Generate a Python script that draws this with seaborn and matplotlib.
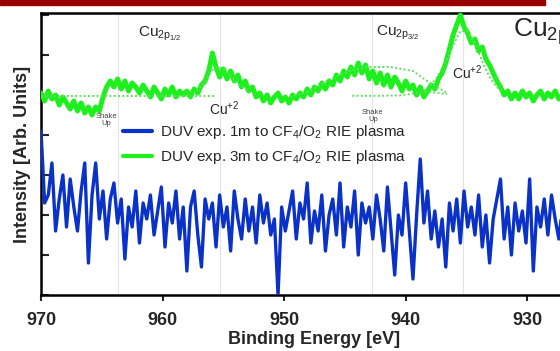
import numpy as np
import pandas as pd
import matplotlib
matplotlib.use("Agg")
import matplotlib.pyplot as plt
from matplotlib.patches import Rectangle
import seaborn as sns

# ---------------------------------------------------------------------------------------
## 0. Values (intensity in tick units, 0 = bottom of the frame)

blue_energy = np.linspace(970, 925, 151)
blue_counts = [
    4.1, 2.3, 2.5, 3.3, 1.6, 2.4, 3.0, 1.7, 2.9, 2.2,
    1.6, 2.6, 3.3, 0.8, 2.5, 3.3, 1.9, 2.6, 1.4, 2.4,
    2.8, 1.8, 2.4, 0.9, 2.2, 1.7, 2.6, 1.3, 2.3, 1.9,
    2.5, 1.5, 2.1, 2.7, 1.2, 2.3, 1.8, 2.6, 1.4, 2.2,
    0.6, 2.2, 2.6, 1.5, 0.7, 2.4, 1.9, 2.3, 1.2, 2.5,
    1.7, 2.2, 1.1, 2.6, 1.9, 1.4, 2.4, 1.6, 2.2, 1.3,
    2.5, 1.8, 2.3, 1.5, 1.9, 0.0, 2.2, 1.6, 2.1, 2.6,
    1.4, 2.3, 1.9, 2.8, 1.3, 2.1, 1.6, 2.5, 1.1, 2.0,
    2.4, 1.5, 2.8, 1.2, 2.2, 1.7, 2.6, 1.0, 2.3, 1.8,
    2.2, 1.4, 2.5, 1.9, 1.1, 2.7, 1.6, 0.5, 2.0, 1.5,
    2.8, 1.6, 0.4, 2.0, 3.4, 1.8, 2.6, 1.4, 2.1, 1.2,
    1.9, 0.7, 2.3, 1.6, 2.4, 1.3, 2.6, 1.7, 2.2, 1.5,
    2.5, 1.2, 2.0, 0.8, 1.9, 2.4, 2.9, 1.4, 2.2, 1.0,
    2.3, 1.6, 2.1, 1.3, 2.9, 0.6, 2.2, 1.7, 2.4, 1.5,
    2.5, 1.9, 1.4, 2.2, 1.8, 2.0, 1.6, 2.1, 1.9, 2.0,
    1.8,
]

green_energy = np.linspace(970, 925, 151)
green_counts = [
    5.05, 4.85, 5.10, 4.90, 5.00, 4.75, 4.95, 4.80, 4.65, 4.85,
    4.60, 4.80, 4.55, 4.70, 4.50, 4.70, 4.60, 4.95, 5.20, 5.35,
    5.20, 5.40, 5.15, 5.35, 5.10, 5.30, 5.20, 5.05, 5.25, 5.10,
    4.95, 5.20, 5.05, 4.90, 5.15, 5.00, 5.20, 4.95, 5.10, 5.00,
    5.10, 4.95, 5.15, 5.05, 5.25, 5.35, 5.60, 6.05, 5.70, 5.45,
    5.65, 5.40, 5.60, 5.35, 5.50, 5.20, 5.35, 5.10, 5.20, 4.95,
    5.05, 4.85, 5.00, 4.80, 4.95, 5.05, 4.85, 4.95, 4.80, 5.00,
    4.90, 5.05, 4.95, 5.15, 5.00, 5.20, 5.10, 5.30, 5.15, 5.35,
    5.25, 5.50, 5.35, 5.60, 5.45, 5.70, 5.50, 5.80, 5.55, 5.75,
    5.40, 5.60, 5.30, 5.55, 5.25, 5.50, 5.20, 5.45, 5.30, 5.10,
    5.35, 5.15, 5.25, 5.00, 5.20, 4.95, 5.10, 5.25, 5.15, 5.40,
    5.55, 5.80, 6.15, 6.50, 6.75, 7.00, 6.70, 6.55, 6.30, 6.40,
    6.10, 6.20, 5.90, 5.75, 5.55, 5.35, 5.20, 5.00, 5.10, 4.90,
    5.05, 4.90, 5.10, 4.95, 5.05, 4.85, 5.00, 5.10, 4.90, 5.05,
    4.95, 5.10, 4.90, 5.00, 5.10, 4.95, 5.05, 4.90, 5.00, 5.05,
    4.95,
]

# dotted fit envelopes
fit_base_energy = [970.0, 955.6]
fit_base_counts = [4.98, 4.98]
fit_a_energy = [957.5, 957.0, 956.5, 956.0, 955.5, 955.0, 954.5, 954.0, 953.5, 953.0, 952.5]
fit_a_counts = [5.05, 5.15, 5.35, 5.60, 5.70, 5.65, 5.50, 5.35, 5.20, 5.10, 5.02]
fit_shake_energy = [949.5, 947.9, 946.2, 944.6, 943.2, 941.3, 939.4, 938.0, 936.6]
fit_shake_counts = [4.95, 5.10, 5.40, 5.60, 5.70, 5.70, 5.60, 5.30, 5.05]
fit_low_energy = [944.4, 942.0, 940.5, 939.5, 938.6, 937.5, 936.6]
fit_low_counts = [4.98, 4.98, 4.99, 5.03, 5.07, 5.06, 5.02]
fit_b_energy = [938.5, 937.5, 936.5, 936.0, 935.5, 935.0, 934.5, 934.0, 933.5, 933.0, 932.5, 932.0]
fit_b_counts = [5.10, 5.40, 5.95, 6.30, 6.60, 6.60, 6.40, 6.05, 5.70, 5.40, 5.20, 5.05]

guide_energies = [963.7, 955.3, 942.8, 935.3]
x_ticks = [970, 960, 950, 940, 930]
series_labels = ['DUV exp. 1m to CF$_4$/O$_2$ RIE plasma',
                 'DUV exp. 3m to CF$_4$/O$_2$ RIE plasma']

# ---------------------------------------------------------------------------------------
## 1. Style

sns.set_style('ticks')
plt.rcParams['font.family'] = ['Liberation Sans', 'DejaVu Sans']
plt.rcParams['mathtext.default'] = 'regular'

blue = '#0a32c8'
green = '#1ef01e'
fit_green = '#5ee05e'

fig = plt.figure(figsize=(5.6, 3.51), dpi=100)
ax = fig.add_axes([41 / 560, 56 / 351, 547 / 560, 282 / 351])

# red banner at the top of the slide
fig.patches.append(Rectangle((0, 1 - 5 / 351), 545 / 560, 5 / 351,
                             transform=fig.transFigure, color='#990000', zorder=5))

# ---------------------------------------------------------------------------------------
## 2. Lines

for e in guide_energies:
    ax.axvline(e, color='#e2e2e2', lw=0.8, zorder=0)

blue_df = pd.DataFrame({'energy': blue_energy, 'counts': blue_counts})
green_df = pd.DataFrame({'energy': green_energy, 'counts': green_counts})

sns.lineplot(data=blue_df, x='energy', y='counts', ax=ax, color=blue, lw=2.4,
             sort=False, label=series_labels[0], zorder=3)
sns.lineplot(data=green_df, x='energy', y='counts', ax=ax, color=green, lw=3.6,
             sort=False, label=series_labels[1], zorder=3)

for fe, fc in [(fit_base_energy, fit_base_counts), (fit_a_energy, fit_a_counts),
               (fit_shake_energy, fit_shake_counts), (fit_low_energy, fit_low_counts),
               (fit_b_energy, fit_b_counts)]:
    ax.plot(fe, fc, color=fit_green, lw=1.4, ls=(0, (1, 1.2)), zorder=4)

# ---------------------------------------------------------------------------------------
## 3. Annotations

ax.text(962.0, 6.45, 'Cu$_{2p_{1/2}}$', fontsize=11)
ax.text(942.4, 6.48, 'Cu$_{2p_{3/2}}$', fontsize=11)
ax.text(931.2, 6.45, 'Cu$_{2p}$', fontsize=19)
ax.text(956.2, 4.5, 'Cu$^{+2}$', fontsize=10)
ax.text(936.2, 5.4, 'Cu$^{+2}$', fontsize=10, zorder=5)
ax.text(964.6, 4.38, 'Shake\nUp', fontsize=5.5, ha='center', va='center',
        color='#444444', linespacing=1.1)
ax.text(942.7, 4.47, 'Shake\nUp', fontsize=5.5, ha='center', va='center',
        color='#444444', linespacing=1.1)

# ---------------------------------------------------------------------------------------
## 4. Axes

ax.set_xlim(970, 925)
ax.set_ylim(0, 7.05)
ax.set_xticks(x_ticks)
ax.set_xticklabels([str(t) for t in x_ticks], fontweight='bold', fontsize=13)
ax.set_yticks(range(0, 8))
ax.set_yticklabels([])
ax.tick_params(axis='y', direction='in', length=6, width=1.5)
ax.tick_params(axis='x', direction='out', length=4.5, width=1.5, pad=8)
ax.set_xlabel('Binding Energy [eV]', fontweight='bold', fontsize=13, labelpad=1)
ax.set_ylabel('Intensity [Arb. Units]', fontweight='bold', fontsize=13, labelpad=4)
for side in ['left', 'bottom', 'top']:
    ax.spines[side].set_linewidth(1.8)
    ax.spines[side].set_color('black')
ax.spines['right'].set_visible(False)

leg = ax.legend(loc='center left', bbox_to_anchor=(0.139, 0.534), frameon=False,
                fontsize=11, handlelength=1.9, handletextpad=0.5, labelspacing=0.45,
                borderaxespad=0)
for line in leg.get_lines():
    line.set_linewidth(3)

fig.savefig('out.png', dpi=100)
